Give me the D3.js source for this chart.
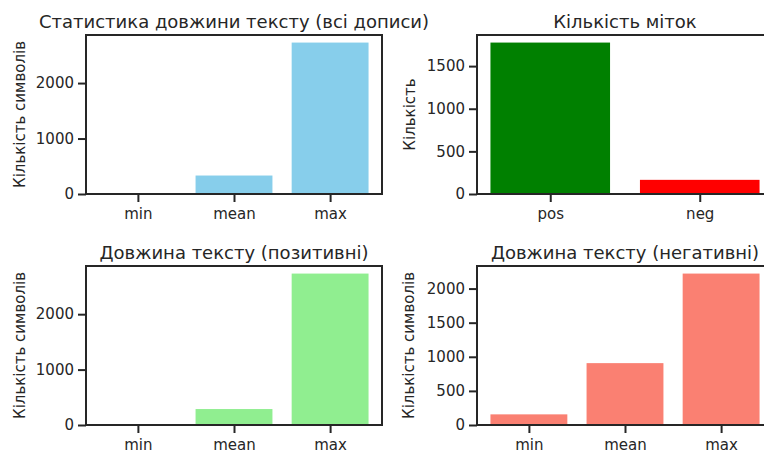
<!DOCTYPE html>
<html>
<head>
<meta charset="utf-8">
<script src="https://cdn.jsdelivr.net/npm/d3@7"></script>
<style>
  body { margin: 0; background: #fff; }
  svg { display: block; }
  svg text { font-family: "DejaVu Sans", sans-serif; }
</style>
</head>
<body>
<div id="chart"></div>
<script>
// Data
const statLabels = ["min", "mean", "max"];
const allValues = [3, 333, 2730];
const labelNames = ["pos", "neg"];
const labelCounts = [1776, 166];
const posValues = [8, 288, 2733];
const negValues = [156, 907, 2220];

const yTicks1 = [0, 1000, 2000];
const yTicks2 = [0, 500, 1000, 1500];
const yTicks3 = [0, 1000, 2000];
const yTicks4 = [0, 500, 1000, 1500, 2000];

const W = 764, H = 450;
const INK = "#262626";

const svg = d3.select("#chart")
    .append("svg")
    .attr("width", W)
    .attr("height", H);

// - - one bar panel, matplotlib-ish - -
function drawPanel(box, cats, vals, colors, ticks, title, ylabel) {
    const g = svg.append("g");

    // bars run from -0.4 to n-0.6, with 5% margin on each side
    const n = cats.length;
    const lo = -0.4, hi = n - 1 + 0.4;
    const pad = (hi - lo) * 0.05;
    const x = d3.scaleLinear()
        .domain([lo - pad, hi + pad])
        .range([box.left, box.left + box.width]);

    const y = d3.scaleLinear()
        .domain([0, d3.max(vals) * 1.05])
        .range([box.bottom, box.top]);

    g.selectAll("rect")
        .data(vals)
        .enter()
        .append("rect")
            .attr("x", (d, i) => x(i - 0.4))
            .attr("width", x(0.8) - x(0))
            .attr("y", d => y(d))
            .attr("height", d => y(0) - y(d))
            .attr("fill", (d, i) => colors[i % colors.length]);

    const yAxis = g.append("g")
        .attr("transform", `translate(${box.left},0)`)
        .call(d3.axisLeft(y).tickValues(ticks).tickSize(8).tickPadding(4).tickFormat(d3.format("d")));

    const xAxis = g.append("g")
        .attr("transform", `translate(0,${box.bottom})`)
        .call(d3.axisBottom(x).tickValues(d3.range(n)).tickSize(8).tickPadding(6).tickFormat(i => cats[i]));

    [yAxis, xAxis].forEach(a => {
        a.attr("font-family", null).attr("font-size", null);
        a.select(".domain").remove();
        a.selectAll("line").attr("stroke", INK).attr("stroke-width", 2);
        a.selectAll("text").attr("fill", INK).style("font-size", "15px");
    });

    // spines
    g.append("rect")
        .attr("x", box.left)
        .attr("y", box.top)
        .attr("width", box.width)
        .attr("height", box.bottom - box.top)
        .attr("fill", "none")
        .attr("stroke", INK)
        .attr("stroke-width", 2);

    g.append("text")
        .attr("x", box.left + box.width / 2)
        .attr("y", box.top - 7)
        .attr("text-anchor", "middle")
        .attr("fill", INK)
        .style("font-size", "18px")
        .text(title);

    g.append("text")
        .attr("transform", `translate(${box.ylab},${(box.top + box.bottom) / 2}) rotate(-90)`)
        .attr("text-anchor", "middle")
        .attr("fill", INK)
        .style("font-size", "15px")
        .text(ylabel);
}

drawPanel({ left: 86, width: 296, top: 35, bottom: 194, ylab: 25 },
    statLabels, allValues, ["#87CEEB"], yTicks1,
    "Статистика довжини тексту (всі дописи)", "Кількість символів");

drawPanel({ left: 477, width: 296, top: 35, bottom: 194, ylab: 415 },
    labelNames, labelCounts, ["#008000", "#FF0000"], yTicks2,
    "Кількість міток", "Кількість");

drawPanel({ left: 86, width: 296, top: 266, bottom: 425, ylab: 25 },
    statLabels, posValues, ["#90EE90"], yTicks3,
    "Довжина тексту (позитивні)", "Кількість символів");

drawPanel({ left: 477, width: 296, top: 266, bottom: 425, ylab: 414 },
    statLabels, negValues, ["#FA8072"], yTicks4,
    "Довжина тексту (негативні)", "Кількість символів");
</script>
</body>
</html>
